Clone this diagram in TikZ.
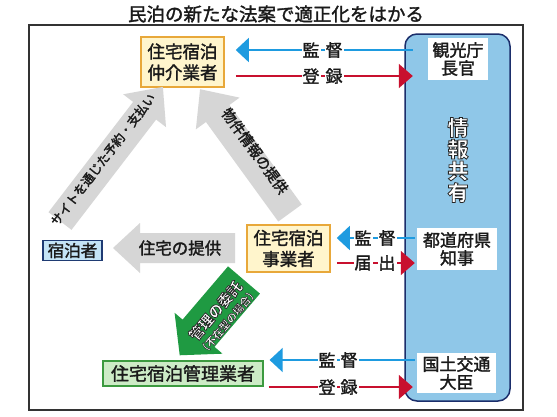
\documentclass[tikz,border=0pt]{standalone}
\usepackage{fontspec}
\setmainfont{Noto Sans CJK JP}
\usetikzlibrary{arrows.meta}
\definecolor{frameC}{HTML}{333333}
\definecolor{panelF}{HTML}{8FC7E8}
\definecolor{panelD}{HTML}{1B2E6B}
\definecolor{yelF}{HTML}{FFF5CC}
\definecolor{yelD}{HTML}{E8A83A}
\definecolor{grnF}{HTML}{CDEBC6}
\definecolor{grnD}{HTML}{3C9A3F}
\definecolor{bluF}{HTML}{C4E4F6}
\definecolor{bluD}{HTML}{1F3B73}
\definecolor{blueA}{HTML}{1E9BE0}
\definecolor{redA}{HTML}{C8102E}
\definecolor{greyA}{HTML}{D6D6D6}
\definecolor{greenA}{HTML}{1F9A42}
\definecolor{txt}{HTML}{1A1A1A}
\newcommand\fs[1]{\fontsize{#1}{#1}\selectfont}
% white text with a thin dark outline (text render mode 2)
\newcommand\oltext[2][0.8]{{\color{white}\special{pdf:code 2 Tr #1 w 0.15 0.15 0.15 RG}#2\special{pdf:code 0 Tr}}}
% block arrow: tail, canvas angle, length, half body, half head, head length, style
\newcommand\blockarrow[7]{%
  \begin{scope}[shift={(#1)},rotate=#2]
    \fill[#7] (0,#4) -- ({#3-#6},#4) -- ({#3-#6},#5) -- (#3,0)
      -- ({#3-#6},-#5) -- ({#3-#6},-#4) -- (0,-#4) -- cycle;
  \end{scope}}
\begin{document}
\begin{tikzpicture}[x=1pt,y=-1pt,
  every node/.style={inner sep=0pt,text=txt},
  emb/.style={execute at begin node={\special{pdf:code 2 Tr 0.3 w}},
              execute at end node={\special{pdf:code 0 Tr}}},
  ybox/.style={draw=yelD,fill=yelF,line width=1.5pt,align=center,emb,
    font=\fontsize{17.5}{21}\selectfont},
  wbox/.style={fill=white,align=center,emb,font=\fontsize{17}{18}\selectfont},
  gbox/.style={draw=grnD,fill=grnF,line width=1.2pt,emb,font=\fs{18}},
  bbox/.style={draw=bluD,fill=bluF,line width=1.2pt,emb,font=\fs{16.5}},
  panel/.style={draw=panelD,fill=panelF,line width=1.5pt,rounded corners=12pt},
  supv/.style={draw=blueA,line width=1.3pt,-{Triangle[length=13pt,width=24pt]}},
  regi/.style={draw=redA,line width=1.6pt,-{Triangle[length=14pt,width=24pt]}},
  lbl/.style={fill=white,inner sep=1pt,emb,font=\fs{17}},
  garrtxt/.style={emb,font=\fs{12.5}},
]
\useasboundingbox (0,0) rectangle (557,416);
\fill[white] (0,0) rectangle (557,416);

% title
\node[emb,font=\fs{18.5}] (title) at (276,14) {民泊の新たな法案で適正化をはかる};

% frame
\draw[frameC,line width=1.6pt] (29,25) rectangle (523,410);

% right panel
\node[panel,minimum width=105pt,minimum height=367pt] (panel) at (457.5,217.5) {};
\node[align=center,font=\fontsize{21}{21.7}\selectfont\bfseries] (share) at (458,160)
  {\oltext{情}\\\oltext{報}\\\oltext{共}\\\oltext{有}};

\node[wbox,minimum width=60pt,minimum height=42pt] (kanko) at (458,59) {観光庁\\長官};
\node[wbox,minimum width=80pt,minimum height=42pt] (todo) at (457,249) {都道府県\\知事};
\node[wbox,minimum width=79pt,minimum height=40pt] (koku) at (456.5,373) {国土交通\\大臣};

% left boxes
\node[ybox,minimum width=83pt,minimum height=50pt] (chukai) at (182.5,62) {住宅宿泊\\仲介業者};
\node[ybox,minimum width=83pt,minimum height=47pt] (jigyo) at (288.5,248.5) {住宅宿泊\\事業者};
\node[gbox,minimum width=160pt,minimum height=25pt] (kanri) at (183,373.5) {住宅宿泊管理業者};
\node[bbox,minimum width=59pt,minimum height=20pt] (guest) at (72.5,250.5) {宿泊者};

% grey block arrows
\blockarrow{60,221}{52.5}{169}{14.5}{27}{30}{greyA}
\node[garrtxt,rotate=52.5] (tSite) at (103,159.5) {サイトを通じた予約・支払い};
\blockarrow{290,213}{126}{153}{14.5}{27}{30}{greyA}
\node[emb,font=\fs{14.5},rotate=-54] (tBukken) at (255,151) {物件情報の提供};
\blockarrow{235,248}{180}{122}{15}{25}{27}{greyA}
\node[emb,font=\fs{16.5}] (tJutaku) at (180,248) {住宅の提供};

% green arrow
\blockarrow{244,280}{229.5}{99}{21}{31.5}{29}{greenA}
\node[align=center,font=\fontsize{14.5}{15}\selectfont\bfseries,rotate=49.5] (tKanri) at (221,315.5)
  {\oltext[0.7]{管理の委託}\\{\fontsize{10.5}{15}\selectfont\oltext[0.5]{（不在型の場合）}}};

% connectors
\draw[supv,shorten <=15pt,shorten >=11pt] (kanko.west |- 0,50) -- (chukai.east |- 0,50);
\draw[regi,shorten <=11pt,shorten >=15pt] (chukai.east |- 0,76) -- (kanko.west |- 0,76);
\draw[supv,shorten <=2pt,shorten >=6pt] (todo.west |- 0,238) -- (jigyo.east |- 0,238);
\draw[regi,shorten <=6pt,shorten >=2pt] (jigyo.east |- 0,263) -- (todo.west |- 0,263);
\draw[supv,shorten <=2pt,shorten >=6pt] (koku.west |- 0,360) -- (kanri.east |- 0,360);
\draw[regi,shorten <=5pt,shorten >=4pt] (kanri.east |- 0,387) -- (koku.west |- 0,387);

% connector labels
\node[lbl] (l1a) at (311,50) {監};
\node[lbl] (l1b) at (334,50) {督};
\node[lbl] (l2a) at (311,76) {登};
\node[lbl] (l2b) at (334,76) {録};
\node[lbl] (l3a) at (363,238) {監};
\node[lbl] (l3b) at (387,238) {督};
\node[lbl] (l4a) at (363,263) {届};
\node[lbl] (l4b) at (387,263) {出};
\node[lbl] (l5a) at (327,360) {監};
\node[lbl] (l5b) at (349,360) {督};
\node[lbl] (l6a) at (327,387) {登};
\node[lbl] (l6b) at (349,387) {録};
\end{tikzpicture}
\end{document}
